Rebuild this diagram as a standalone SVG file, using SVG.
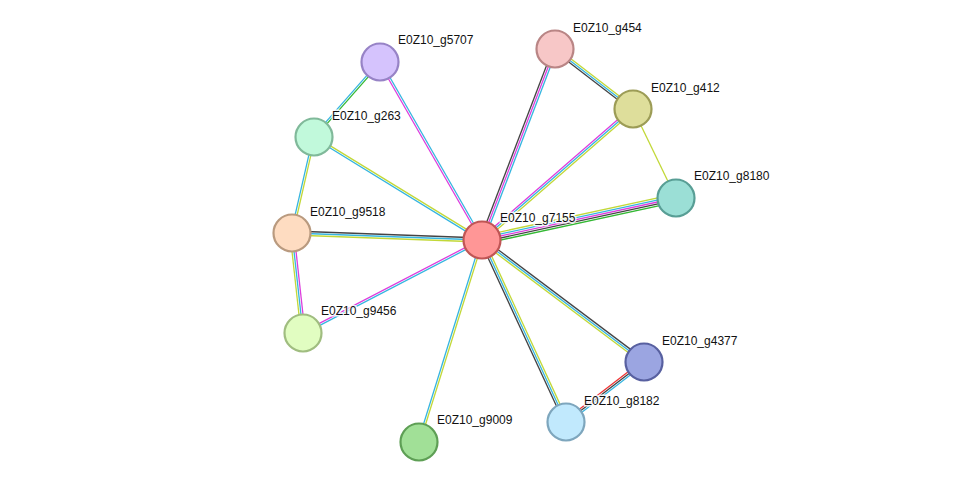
<svg xmlns="http://www.w3.org/2000/svg" width="975" height="487" viewBox="0 0 975 487">
<style>
.e line{stroke-width:1.3;fill:none}
.c{stroke:#35b5e0}.m{stroke:#dd3ddd}.y{stroke:#c2d838}.k{stroke:#444444}.g{stroke:#33b833}.r{stroke:#ee3333}
.n circle{stroke-width:2.2}
.n text{font-family:"Liberation Sans",Arial,sans-serif;font-size:12px;fill:#111;stroke:#fff;stroke-width:3;stroke-opacity:0.85;paint-order:stroke;stroke-linejoin:round}
</style>
<rect width="975" height="487" fill="#ffffff"/>
<g id="connectors" class="e">
<g transform="translate(482,240) rotate(-119.82)"><line class="m" x1="0" y1="-1" x2="205.2" y2="-1"/><line class="c" x1="0" y1="1" x2="205.2" y2="1"/></g>
<g transform="translate(482,240) rotate(-69.08)"><line class="k" x1="0" y1="-2" x2="204.5" y2="-2"/><line class="m" x1="0" y1="0" x2="204.5" y2="0"/><line class="c" x1="0" y1="2" x2="204.5" y2="2"/></g>
<g transform="translate(482,240) rotate(-40.94)"><line class="m" x1="0" y1="-2" x2="199.9" y2="-2"/><line class="c" x1="0" y1="0" x2="199.9" y2="0"/><line class="y" x1="0" y1="2" x2="199.9" y2="2"/></g>
<g transform="translate(482,240) rotate(-12.215)"><line class="y" x1="0" y1="-4" x2="198.5" y2="-4"/><line class="c" x1="0" y1="-2" x2="198.5" y2="-2"/><line class="m" x1="0" y1="0" x2="198.5" y2="0"/><line class="k" x1="0" y1="2" x2="198.5" y2="2"/><line class="g" x1="0" y1="4" x2="198.5" y2="4"/></g>
<g transform="translate(482,240) rotate(-148.48)"><line class="y" x1="0" y1="1" x2="197.1" y2="1"/><line class="c" x1="0" y1="-1" x2="197.1" y2="-1"/></g>
<g transform="translate(482,240) rotate(-177.89)"><line class="k" x1="0" y1="2" x2="190.1" y2="2"/><line class="c" x1="0" y1="0" x2="190.1" y2="0"/><line class="y" x1="0" y1="-2" x2="190.1" y2="-2"/></g>
<g transform="translate(482,240) rotate(152.55)"><line class="m" x1="0" y1="1" x2="201.7" y2="1"/><line class="c" x1="0" y1="-1" x2="201.7" y2="-1"/></g>
<g transform="translate(482,240) rotate(107.32)"><line class="c" x1="0" y1="1" x2="211.6" y2="1"/><line class="y" x1="0" y1="-1" x2="211.6" y2="-1"/></g>
<g transform="translate(482,240) rotate(65.22)"><line class="k" x1="0" y1="2" x2="200.4" y2="2"/><line class="c" x1="0" y1="0" x2="200.4" y2="0"/><line class="y" x1="0" y1="-2" x2="200.4" y2="-2"/></g>
<g transform="translate(482,240) rotate(36.98)"><line class="y" x1="0" y1="2" x2="202.8" y2="2"/><line class="c" x1="0" y1="0" x2="202.8" y2="0"/><line class="k" x1="0" y1="-2" x2="202.8" y2="-2"/></g>
<g transform="translate(380,62) rotate(131.35)"><line class="c" x1="0" y1="1" x2="99.9" y2="1"/><line class="g" x1="0" y1="-1" x2="99.9" y2="-1"/></g>
<g transform="translate(555,49) rotate(37.57)"><line class="k" x1="0" y1="2" x2="98.4" y2="2"/><line class="c" x1="0" y1="0" x2="98.4" y2="0"/><line class="y" x1="0" y1="-2" x2="98.4" y2="-2"/></g>
<line class="y" x1="633" y1="109" x2="676" y2="198"/>
<g transform="translate(314,137) rotate(102.91)"><line class="c" x1="0" y1="1" x2="98.5" y2="1"/><line class="y" x1="0" y1="-1" x2="98.5" y2="-1"/></g>
<g transform="translate(292,233) rotate(83.72)"><line class="y" x1="0" y1="2" x2="100.6" y2="2"/><line class="c" x1="0" y1="0" x2="100.6" y2="0"/><line class="m" x1="0" y1="-2" x2="100.6" y2="-2"/></g>
<g transform="translate(644,362) rotate(142.43)"><line class="r" x1="0" y1="2" x2="98.4" y2="2"/><line class="k" x1="0" y1="0" x2="98.4" y2="0"/><line class="c" x1="0" y1="-2" x2="98.4" y2="-2"/></g>
</g>
<g id="E0Z10_g7155" class="n"><circle cx="482" cy="240" r="18.5" fill="#ff9696" stroke="#c05555"/><text x="500" y="222">E0Z10_g7155</text></g>
<g id="E0Z10_g5707" class="n"><circle cx="380" cy="62" r="18.5" fill="#d5c3fd" stroke="#9783c6"/><text x="398" y="44">E0Z10_g5707</text></g>
<g id="E0Z10_g454" class="n"><circle cx="555" cy="49" r="18.5" fill="#f7c7c7" stroke="#b98585"/><text x="573" y="32">E0Z10_g454</text></g>
<g id="E0Z10_g412" class="n"><circle cx="633" cy="109" r="18.5" fill="#dede9b" stroke="#9c9c56"/><text x="651" y="92">E0Z10_g412</text></g>
<g id="E0Z10_g8180" class="n"><circle cx="676" cy="198" r="18.5" fill="#9bdfd6" stroke="#589e95"/><text x="694" y="180">E0Z10_g8180</text></g>
<g id="E0Z10_g263" class="n"><circle cx="314" cy="137" r="18.5" fill="#c1f9db" stroke="#80b99a"/><text x="332" y="120">E0Z10_g263</text></g>
<g id="E0Z10_g9518" class="n"><circle cx="292" cy="233" r="18.5" fill="#fedcc1" stroke="#b99a7f"/><text x="310" y="216">E0Z10_g9518</text></g>
<g id="E0Z10_g9456" class="n"><circle cx="303" cy="333" r="18.5" fill="#e1fdc1" stroke="#a0bd80"/><text x="321" y="315">E0Z10_g9456</text></g>
<g id="E0Z10_g9009" class="n"><circle cx="419" cy="442" r="18.5" fill="#a1e097" stroke="#5e9f55"/><text x="437" y="424">E0Z10_g9009</text></g>
<g id="E0Z10_g8182" class="n"><circle cx="566" cy="422" r="18.5" fill="#c1e9fd" stroke="#7ea6bd"/><text x="584" y="405">E0Z10_g8182</text></g>
<g id="E0Z10_g4377" class="n"><circle cx="644" cy="362" r="18.5" fill="#9ba5e1" stroke="#5860a0"/><text x="662" y="345">E0Z10_g4377</text></g>
</svg>
